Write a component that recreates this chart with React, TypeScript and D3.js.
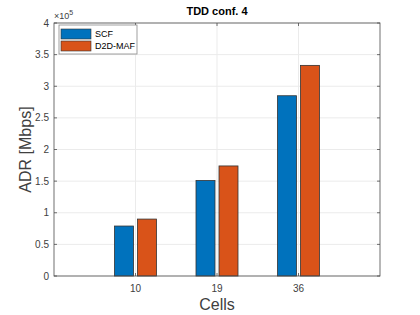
import * as d3 from 'd3';

const categories = ['10', '19', '36'];
const seriesNames = ['SCF', 'D2D-MAF'];
const scf = [0.79, 1.51, 2.85];
const d2dMaf = [0.9, 1.74, 3.33];
const yTicks = [0, 0.5, 1, 1.5, 2, 2.5, 3, 3.5, 4];
const seriesColors = ['#0072BD', '#D95319'];

export default function App() {
  const width = 420;
  const height = 315;
  const margin = { top: 23, right: 40, bottom: 39, left: 54 };
  const innerWidth = width - margin.left - margin.right;
  const innerHeight = height - margin.top - margin.bottom;

  const x = d3.scaleLinear().domain([0, 4]).range([0, innerWidth]);
  const y = d3.scaleLinear().domain([0, 4]).range([innerHeight, 0]);

  const barW = 19;
  const offsets = [-11.5, 11.5];
  const series = [scf, d2dMaf];
  const axisColor = '#4d4d4d';
  const textColor = '#404040';
  const font = 'Liberation Sans, Arial, sans-serif';

  return (
    <svg
      width={width}
      height={height}
      style={{ position: 'absolute', left: 0, top: 0, background: '#fff' }}
      fontFamily={font}
    >
      <g transform={`translate(${margin.left},${margin.top})`}>
        {/* grid */}
        {yTicks.map((t) => (
          <line key={`gy${t}`} x1={0} x2={innerWidth} y1={y(t)} y2={y(t)} stroke='#ebebeb' />
        ))}
        {categories.map((c, i) => (
          <line key={`gx${c}`} x1={x(i + 1)} x2={x(i + 1)} y1={0} y2={innerHeight} stroke='#ebebeb' />
        ))}

        {/* bars */}
        {series.map((vals, s) =>
          vals.map((v, i) => (
            <rect
              key={`b${s}-${i}`}
              x={x(i + 1) + offsets[s] - barW / 2}
              y={y(v)}
              width={barW}
              height={innerHeight - y(v)}
              fill={seriesColors[s]}
              stroke='#333'
              strokeWidth={0.8}
            />
          )),
        )}

        {/* box */}
        <rect x={0} y={0} width={innerWidth} height={innerHeight} fill='none' stroke={axisColor} strokeWidth={0.8} />

        {/* y ticks */}
        {yTicks.map((t) => (
          <g key={`ty${t}`}>
            <line x1={0} x2={3} y1={y(t)} y2={y(t)} stroke={axisColor} strokeWidth={0.8} />
            <line x1={innerWidth} x2={innerWidth - 3} y1={y(t)} y2={y(t)} stroke={axisColor} strokeWidth={0.8} />
            <text x={-5} y={y(t)} dy='0.35em' textAnchor='end' fontSize={10} fill={textColor}>
              {t}
            </text>
          </g>
        ))}

        {/* x ticks */}
        {categories.map((c, i) => (
          <g key={`tx${c}`}>
            <line x1={x(i + 1)} x2={x(i + 1)} y1={innerHeight} y2={innerHeight - 3} stroke={axisColor} strokeWidth={0.8} />
            <line x1={x(i + 1)} x2={x(i + 1)} y1={0} y2={3} stroke={axisColor} strokeWidth={0.8} />
            <text x={x(i + 1)} y={innerHeight + 16} textAnchor='middle' fontSize={10} fill={textColor}>
              {c}
            </text>
          </g>
        ))}

        {/* exponent */}
        <text x={0} y={-4} fontSize={9} fill={textColor}>
          ×10
          <tspan dy={-4} fontSize={7}>5</tspan>
        </text>

        {/* title */}
        <text x={innerWidth / 2} y={-8} textAnchor='middle' fontSize={11} fontWeight='bold' fill='#000'>
          TDD conf. 4
        </text>

        {/* axis labels */}
        <text x={innerWidth / 2} y={innerHeight + 34} textAnchor='middle' fontSize={16} fill={textColor}>
          Cells
        </text>
        <text
          transform={`translate(${-23},${innerHeight / 2}) rotate(-90)`}
          textAnchor='middle'
          fontSize={16}
          fill={textColor}
        >
          ADR [Mbps]
        </text>

        {/* legend */}
        <g transform='translate(5,2)'>
          <rect x={0} y={0} width={78} height={29} fill='#fff' stroke='#888' strokeWidth={0.8} />
          {seriesNames.map((n, s) => (
            <g key={n} transform={`translate(2,${4 + s * 12})`}>
              <rect x={0} y={0} width={30} height={10} fill={seriesColors[s]} stroke='#333' strokeWidth={0.6} />
              <text x={34} y={5} dy='0.35em' fontSize={9} fill='#000'>
                {n}
              </text>
            </g>
          ))}
        </g>
      </g>
    </svg>
  );
}
